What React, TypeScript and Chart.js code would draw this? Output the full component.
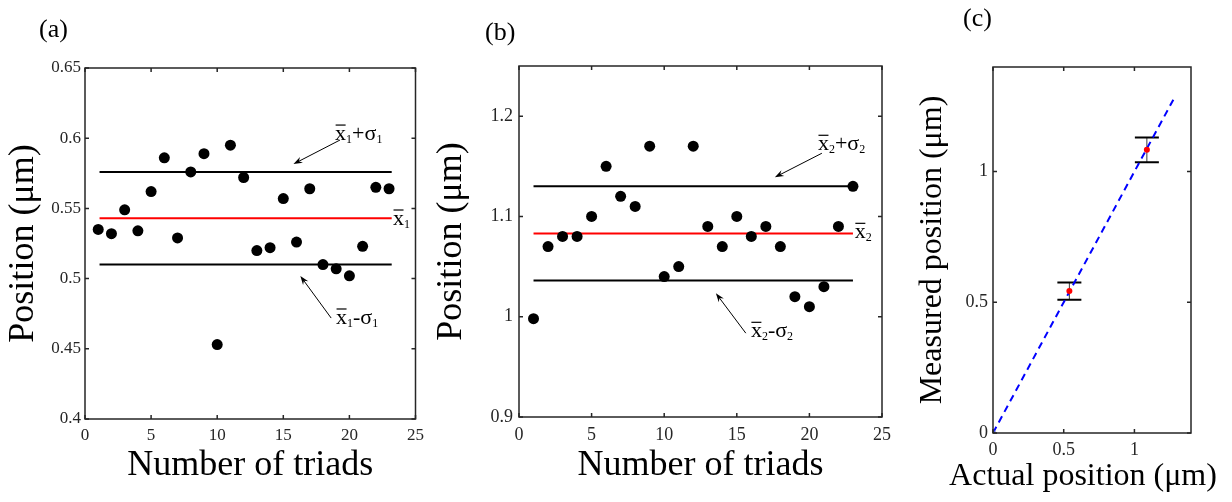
import React, { useEffect, useRef } from "react";
import { Chart, registerables } from "chart.js";

Chart.register(...registerables);

const SERIF = '"Liberation Serif", "Times New Roman", Times, serif';
const TICK_COLOR = "#262626";
const AXIS_COLOR = "#262626";

// (a) particle 1: measured position for every triad
const triadsA = [1, 2, 3, 4, 5, 6, 7, 8, 9, 10, 11, 12, 13, 14, 15, 16, 17, 18, 19, 20, 21, 22, 23];
const positionA = [
  0.535, 0.532, 0.549, 0.534, 0.562, 0.586, 0.529, 0.576, 0.589, 0.453, 0.595, 0.572,
  0.52, 0.522, 0.557, 0.526, 0.564, 0.51, 0.507, 0.502, 0.523, 0.565, 0.564,
];
const meanA = 0.543;
const sigmaA = 0.033;
const spanA = [1.1, 23.2];
const xTicksA = [0, 5, 10, 15, 20, 25];
const yTicksA = [0.4, 0.45, 0.5, 0.55, 0.6, 0.65];

// (b) particle 2: measured position for every triad
const triadsB = [1, 2, 3, 4, 5, 6, 7, 8, 9, 10, 11, 12, 13, 14, 15, 16, 17, 18, 19, 20, 21, 22, 23];
const positionB = [
  0.998, 1.07, 1.08, 1.08, 1.1, 1.15, 1.12, 1.11, 1.17, 1.04, 1.05, 1.17,
  1.09, 1.07, 1.1, 1.08, 1.09, 1.07, 1.02, 1.01, 1.03, 1.09, 1.13,
];
const meanB = 1.083;
const sigmaB = 0.047;
const spanB = [1, 23];
const xTicksB = [0, 5, 10, 15, 20, 25];
const yTicksB = [0.9, 1, 1.1, 1.2];

// (c) measured vs actual position, error bars = one standard deviation
const actualC = [0.54, 1.088];
const measuredC = [meanA, meanB];
const errorC = [sigmaA, sigmaB];
const idealC = [0, 1.29];
const ticksC = [0, 0.5, 1];

type Part = { t: string; sub?: boolean; bar?: boolean };
type Note = { x: number; y: number; parts: Part[] };
type ArrowNote = { from: [number, number]; to: [number, number] };

function axis(
  ticks: number[],
  min: number,
  max: number,
  fontSize: number,
  pad: number,
  size: number,
  horizontal: boolean
) {
  return {
    type: "linear" as const,
    min,
    max,
    grid: { display: false, drawTicks: false },
    border: { display: false },
    ticks: {
      autoSkip: false,
      maxRotation: 0,
      minRotation: 0,
      padding: pad,
      color: TICK_COLOR,
      font: { family: SERIF, size: fontSize },
      callback: (v: number | string) => String(v),
    },
    afterBuildTicks: (s: any) => {
      s.ticks = ticks.map((value) => ({ value }));
    },
    afterFit: (s: any) => {
      if (horizontal) s.height = size;
      else s.width = size;
    },
  };
}

function drawMath(ctx: CanvasRenderingContext2D, x: number, y: number, parts: Part[], size: number) {
  let cx = x;
  ctx.textAlign = "left";
  ctx.textBaseline = "alphabetic";
  for (const p of parts) {
    const fs = p.sub ? Math.round(size * 0.56) : size;
    ctx.font = `${fs}px ${SERIF}`;
    const dy = p.sub ? size * 0.12 : 0;
    ctx.fillText(p.t, cx, y + dy);
    const w = ctx.measureText(p.t).width;
    if (p.bar) {
      ctx.beginPath();
      ctx.lineWidth = 1.2;
      ctx.moveTo(cx + 0.5, y - size * 0.68);
      ctx.lineTo(cx + w - 0.5, y - size * 0.68);
      ctx.stroke();
    }
    cx += w;
  }
}

function drawArrow(ctx: CanvasRenderingContext2D, x1: number, y1: number, x2: number, y2: number) {
  const ang = Math.atan2(y2 - y1, x2 - x1);
  const len = 9;
  const half = 3.2;
  ctx.beginPath();
  ctx.lineWidth = 1;
  ctx.moveTo(x1, y1);
  ctx.lineTo(x2 - Math.cos(ang) * 4, y2 - Math.sin(ang) * 4);
  ctx.stroke();
  const bx = x2 - Math.cos(ang) * len;
  const by = y2 - Math.sin(ang) * len;
  const nx = -Math.sin(ang);
  const ny = Math.cos(ang);
  ctx.beginPath();
  ctx.moveTo(x2, y2);
  ctx.lineTo(bx + nx * half, by + ny * half);
  ctx.lineTo(x2 - Math.cos(ang) * (len - 3), y2 - Math.sin(ang) * (len - 3));
  ctx.lineTo(bx - nx * half, by - ny * half);
  ctx.closePath();
  ctx.fill();
}

type PanelSpec = {
  key: string;
  left: number;
  width: number;
  height: number;
  letter: { text: string; x: number; y: number };
  xTitle: { text: string; size: number; below: number; dx: number };
  yTitle: { text: string; size: number; leftOf: number; dy: number };
  notes: Note[];
  arrows: ArrowNote[];
  errorBars?: boolean;
  datasets: any[];
  scales: any;
  padding: { top: number; right: number };
};

function decorPlugin(spec: PanelSpec) {
  return {
    id: "decor-" + spec.key,
    beforeDatasetsDraw(chart: any) {
      if (!spec.errorBars) return;
      const { ctx, scales } = chart;
      const { x, y } = scales;
      ctx.save();
      actualC.forEach((a, i) => {
        const px = x.getPixelForValue(a);
        const top = y.getPixelForValue(measuredC[i] + errorC[i]);
        const bot = y.getPixelForValue(measuredC[i] - errorC[i]);
        ctx.strokeStyle = "#3a3a3a";
        ctx.lineWidth = 1;
        ctx.beginPath();
        ctx.moveTo(px, top);
        ctx.lineTo(px, bot);
        ctx.stroke();
        ctx.strokeStyle = "#000";
        ctx.lineWidth = 2;
        ctx.beginPath();
        ctx.moveTo(px - 12, top);
        ctx.lineTo(px + 12, top);
        ctx.moveTo(px - 12, bot);
        ctx.lineTo(px + 12, bot);
        ctx.stroke();
      });
      ctx.restore();
    },
    afterDraw(chart: any) {
      const { ctx, chartArea, scales } = chart;
      const { left, top, right, bottom } = chartArea;
      const { x, y } = scales;
      ctx.save();
      // axes box
      ctx.strokeStyle = AXIS_COLOR;
      ctx.lineWidth = 1.5;
      ctx.strokeRect(left, top, right - left, bottom - top);
      // inward tick marks on all four sides
      const tl = 4;
      ctx.beginPath();
      x.ticks.forEach((t: any) => {
        const px = x.getPixelForValue(t.value);
        ctx.moveTo(px, bottom);
        ctx.lineTo(px, bottom - tl);
        ctx.moveTo(px, top);
        ctx.lineTo(px, top + tl);
      });
      y.ticks.forEach((t: any) => {
        const py = y.getPixelForValue(t.value);
        ctx.moveTo(left, py);
        ctx.lineTo(left + tl, py);
        ctx.moveTo(right, py);
        ctx.lineTo(right - tl, py);
      });
      ctx.stroke();

      ctx.fillStyle = "#000";
      ctx.strokeStyle = "#000";
      // axis titles
      ctx.textAlign = "center";
      ctx.textBaseline = "alphabetic";
      ctx.font = `${spec.xTitle.size}px ${SERIF}`;
      ctx.fillText(spec.xTitle.text, (left + right) / 2 + spec.xTitle.dx, bottom + spec.xTitle.below);
      ctx.save();
      ctx.translate(left - spec.yTitle.leftOf, (top + bottom) / 2 + spec.yTitle.dy);
      ctx.rotate(-Math.PI / 2);
      ctx.font = `${spec.yTitle.size}px ${SERIF}`;
      ctx.fillText(spec.yTitle.text, 0, 0);
      ctx.restore();

      // panel letter
      ctx.textAlign = "left";
      ctx.font = `26px ${SERIF}`;
      ctx.fillText(spec.letter.text, spec.letter.x, spec.letter.y);

      // annotations
      spec.notes.forEach((n) => {
        drawMath(ctx, x.getPixelForValue(n.x), y.getPixelForValue(n.y), n.parts, 22);
      });
      spec.arrows.forEach((a) => {
        drawArrow(
          ctx,
          x.getPixelForValue(a.from[0]),
          y.getPixelForValue(a.from[1]),
          x.getPixelForValue(a.to[0]),
          y.getPixelForValue(a.to[1])
        );
      });
      ctx.restore();
    },
  };
}

function hLine(span: number[], value: number, color: string) {
  return {
    type: "line",
    data: span.map((x) => ({ x, y: value })),
    borderColor: color,
    borderWidth: 2,
    pointRadius: 0,
    showLine: true,
  };
}

function dots(xs: number[], ys: number[]) {
  return {
    type: "scatter",
    data: xs.map((x, i) => ({ x, y: ys[i] })),
    pointRadius: 5.5,
    pointHoverRadius: 5.5,
    pointBackgroundColor: "#000",
    pointBorderWidth: 0,
  };
}

const panelA: PanelSpec = {
  key: "a",
  left: 0,
  width: 430,
  height: 502,
  letter: { text: "(a)", x: 39, y: 37 },
  xTitle: { text: "Number of triads", size: 36, below: 56, dx: 0 },
  yTitle: { text: "Position (μm)", size: 36, leftOf: 52, dy: 0 },
  notes: [
    { x: 18.92, y: 0.5987, parts: [{ t: "x", bar: true }, { t: "1", sub: true }, { t: "+σ" }, { t: "1", sub: true }] },
    { x: 23.3, y: 0.5382, parts: [{ t: "x", bar: true }, { t: "1", sub: true }] },
    { x: 18.99, y: 0.4677, parts: [{ t: "x", bar: true }, { t: "1", sub: true }, { t: "-σ" }, { t: "1", sub: true }] },
  ],
  arrows: [
    { from: [19.29, 0.5987], to: [15.77, 0.5816] },
    { from: [18.62, 0.4719], to: [16.29, 0.5019] },
  ],
  datasets: [
    dots(triadsA, positionA),
    hLine(spanA, meanA + sigmaA, "#000000"),
    hLine(spanA, meanA, "#ff0000"),
    hLine(spanA, meanA - sigmaA, "#000000"),
  ],
  scales: {
    x: axis(xTicksA, 0, 25, 17, 6, 83, true),
    y: axis(yTicksA, 0.4, 0.65, 17, 4, 85, false),
  },
  padding: { top: 68, right: 12 },
};

const panelB: PanelSpec = {
  key: "b",
  left: 430,
  width: 470,
  height: 502,
  letter: { text: "(b)", x: 55, y: 40 },
  xTitle: { text: "Number of triads", size: 36, below: 58, dx: 0 },
  yTitle: { text: "Position (μm)", size: 36, leftOf: 58, dy: 0 },
  notes: [
    { x: 20.59, y: 1.166, parts: [{ t: "x", bar: true }, { t: "2", sub: true }, { t: "+σ" }, { t: "2", sub: true }] },
    { x: 23.13, y: 1.0782, parts: [{ t: "x", bar: true }, { t: "2", sub: true }] },
    { x: 15.97, y: 0.9795, parts: [{ t: "x", bar: true }, { t: "2", sub: true }, { t: "-σ" }, { t: "2", sub: true }] },
  ],
  arrows: [
    { from: [20.86, 1.163], to: [17.62, 1.139] },
    { from: [15.62, 0.9836], to: [13.56, 1.0234] },
  ],
  datasets: [
    dots(triadsB, positionB),
    hLine(spanB, meanB + sigmaB, "#000000"),
    hLine(spanB, meanB, "#ff0000"),
    hLine(spanB, meanB - sigmaB, "#000000"),
  ],
  scales: {
    x: axis(xTicksB, 0, 25, 18, 7, 85, true),
    y: axis(yTicksB, 0.9, 1.25, 18, 6, 89, false),
  },
  padding: { top: 66, right: 18 },
};

const panelC: PanelSpec = {
  key: "c",
  left: 900,
  width: 332,
  height: 502,
  letter: { text: "(c)", x: 63, y: 26 },
  xTitle: { text: "Actual position (μm)", size: 32, below: 52, dx: -9 },
  yTitle: { text: "Measured position (μm)", size: 32, leftOf: 52, dy: 0 },
  notes: [],
  arrows: [],
  errorBars: true,
  datasets: [
    {
      type: "scatter",
      data: actualC.map((x, i) => ({ x, y: measuredC[i] })),
      pointRadius: 3,
      pointHoverRadius: 3,
      pointBackgroundColor: "#ff0000",
      pointBorderWidth: 0,
    },
    {
      type: "line",
      data: idealC.map((v) => ({ x: v, y: v })),
      borderColor: "#0000ff",
      borderWidth: 2,
      borderDash: [7, 5],
      showLine: true,
      pointRadius: [2.5, 0],
      pointBorderColor: "#4a5fd0",
      pointBackgroundColor: "rgba(120,140,220,0.6)",
      pointBorderWidth: 1,
    },
  ],
  scales: {
    x: axis(ticksC, 0, 1.4, 18, 6, 69, true),
    y: axis(ticksC, 0, 1.4, 18, 5, 93, false),
  },
  padding: { top: 67, right: 41 },
};

function Panel({ spec }: { spec: PanelSpec }) {
  const ref = useRef<HTMLCanvasElement | null>(null);
  useEffect(() => {
    if (!ref.current) return;
    const chart = new Chart(ref.current, {
      type: "scatter",
      data: { datasets: spec.datasets },
      options: {
        responsive: false,
        maintainAspectRatio: false,
        animation: false,
        devicePixelRatio: 1,
        layout: { padding: { top: spec.padding.top, right: spec.padding.right, left: 0, bottom: 0 } },
        plugins: { legend: { display: false }, tooltip: { enabled: false } },
        events: [],
        scales: spec.scales,
      },
      plugins: [decorPlugin(spec)],
    } as any);
    return () => chart.destroy();
  }, [spec]);
  return (
    <canvas
      ref={ref}
      width={spec.width}
      height={spec.height}
      style={{ position: "absolute", left: spec.left, top: 0, width: spec.width, height: spec.height }}
    />
  );
}

export default function App() {
  return (
    <div
      style={{
        position: "absolute",
        left: 0,
        top: 0,
        width: 1232,
        height: 502,
        background: "#ffffff",
        overflow: "hidden",
      }}
    >
      <Panel spec={panelA} />
      <Panel spec={panelB} />
      <Panel spec={panelC} />
    </div>
  );
}
